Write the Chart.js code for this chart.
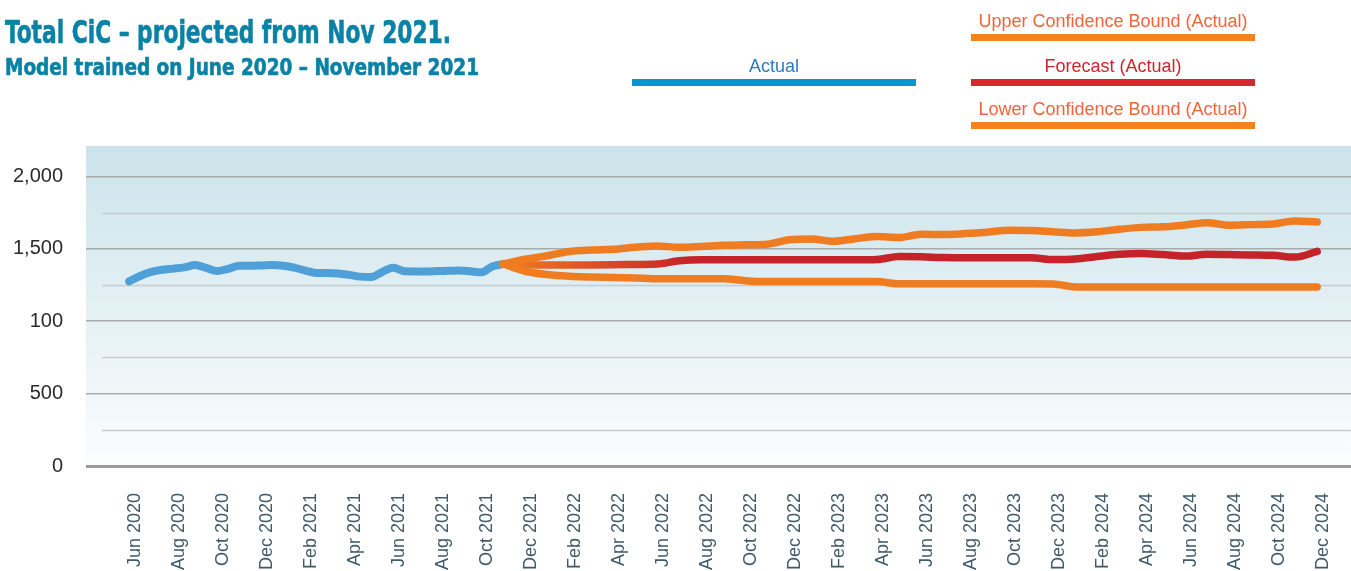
<!DOCTYPE html>
<html>
<head>
<meta charset="utf-8">
<title>Total CiC – projected from Nov 2021</title>
<script src="https://cdn.jsdelivr.net/npm/chart.js@4.4.1/dist/chart.umd.min.js"></script>
<style>
  html, body { margin: 0; padding: 0; background: #fff; }
  #wrap { position: relative; width: 1351px; height: 571px; overflow: hidden; }
  #chart { position: absolute; left: 0; top: 0; }
  .title {
    position: absolute; left: 5px; white-space: nowrap; color: #0a82a5;
    font-family: 'Liberation Sans Narrow', 'DejaVu Sans Condensed', 'Liberation Sans', sans-serif;
    font-weight: bold; font-stretch: condensed; transform-origin: 0 0;
    -webkit-text-stroke: 0.6px #0a82a5;
  }
  #title1 { top: 16px; font-size: 32px; line-height: 32px; }
  #title2 { top: 56px; font-size: 23px; line-height: 23px; }
  .legend-item { position: absolute; }
  .legend-text {
    position: absolute; left: -40px; right: -40px; text-align: center; white-space: nowrap;
    font: 18px 'Liberation Sans', Arial, sans-serif; line-height: 20px;
  }
  .legend-bar { position: absolute; left: 0; width: 100%; height: 7px; }
</style>
</head>
<body>
<div id="wrap">
  <canvas id="chart" width="1351" height="571"></canvas>
  <div class="title" id="title1">Total CiC – projected from Nov 2021.</div>
  <div class="title" id="title2">Model trained on June 2020 – November 2021</div>
  <div id="legend"></div>
</div>
<script>
// --- Data ---
const tickLabels = [
    'Jun 2020', 'Aug 2020', 'Oct 2020', 'Dec 2020', 'Feb 2021', 'Apr 2021', 'Jun 2021',
    'Aug 2021', 'Oct 2021', 'Dec 2021', 'Feb 2022', 'Apr 2022', 'Jun 2022', 'Aug 2022',
    'Oct 2022', 'Dec 2022', 'Feb 2023', 'Apr 2023', 'Jun 2023', 'Aug 2023', 'Oct 2023',
    'Dec 2023', 'Feb 2024', 'Apr 2024', 'Jun 2024', 'Aug 2024', 'Oct 2024', 'Dec 2024'
];

const yTickValues = [0, 250, 500, 750, 1000, 1250, 1500, 1750, 2000];
// labels as printed on the original (including its "100")
const yTickLabels = { 0: '0', 500: '500', 1000: '100', 1500: '1,500', 2000: '2,000' };

const actualDates = [
    '2020-05-23', '2020-06-08', '2020-06-23', '2020-07-08', '2020-07-23', '2020-08-08',
    '2020-08-23', '2020-09-08', '2020-09-23', '2020-10-08', '2020-10-23', '2020-11-08',
    '2020-11-23', '2020-12-08', '2020-12-23', '2021-01-08', '2021-01-23', '2021-02-08',
    '2021-02-23', '2021-03-08', '2021-03-23', '2021-04-08', '2021-04-23', '2021-05-08',
    '2021-05-23', '2021-06-08', '2021-06-23', '2021-07-08', '2021-07-23', '2021-08-08',
    '2021-08-23', '2021-09-08', '2021-09-23', '2021-10-08', '2021-10-23'
];
const actualValues = [
    1275, 1312, 1340, 1355, 1363, 1372, 1388, 1368, 1347, 1362, 1383, 1383,
    1385, 1388, 1383, 1370, 1350, 1333, 1333, 1330, 1320, 1308, 1305, 1340,
    1370, 1345, 1344, 1344, 1346, 1348, 1350, 1345, 1338, 1378, 1395
];

const forecastDates = [
    '2021-10-23', '2021-11-23', '2021-12-23',
    '2022-01-23', '2022-02-23', '2022-03-23', '2022-04-23', '2022-05-23', '2022-06-23',
    '2022-07-23', '2022-08-23', '2022-09-23', '2022-10-23', '2022-11-23', '2022-12-23',
    '2023-01-23', '2023-02-23', '2023-03-23', '2023-04-23', '2023-05-23', '2023-06-23',
    '2023-07-23', '2023-08-23', '2023-09-23', '2023-10-23', '2023-11-23', '2023-12-23',
    '2024-01-23', '2024-02-23', '2024-03-23', '2024-04-23', '2024-05-23', '2024-06-23',
    '2024-07-23', '2024-08-23', '2024-09-23', '2024-10-23', '2024-11-23'
];
const upperValues = [
    1395, 1428, 1452, 1482, 1492, 1497, 1510, 1520, 1510, 1516,
    1524, 1528, 1532, 1562, 1568, 1552, 1570, 1585, 1578, 1601,
    1598, 1605, 1615, 1628, 1626, 1618, 1610, 1618, 1635, 1648,
    1652, 1665, 1680, 1663, 1667, 1672, 1692, 1685
];
const forecastValues = [
    1395, 1390, 1389, 1389, 1389, 1390, 1392, 1395, 1417, 1424,
    1424, 1424, 1424, 1424, 1424, 1424, 1424, 1426, 1447, 1445,
    1440, 1438, 1438, 1438, 1438, 1426, 1430, 1447, 1462, 1468,
    1460, 1450, 1462, 1460, 1458, 1455, 1443, 1482
];
const lowerValues = [
    1395, 1345, 1322, 1310, 1305, 1302, 1298, 1293, 1293, 1293,
    1293, 1280, 1274, 1274, 1274, 1274, 1274, 1274, 1258, 1258,
    1258, 1258, 1258, 1258, 1258, 1257, 1237, 1237, 1237, 1237,
    1237, 1237, 1237, 1237, 1237, 1237, 1237, 1237
];

const seriesNames = {
    actual: 'Actual',
    upper: 'Upper Confidence Bound (Actual)',
    forecast: 'Forecast (Actual)',
    lower: 'Lower Confidence Bound (Actual)'
};

// --- Styles ---
const colors = {
    actualLine: '#4f9fd9',
    orangeLine: '#f07c22',
    redLine: '#c52229',
    actualKey: '#0a95d0',
    orangeKey: '#f4821f',
    redKey: '#d62830',
    actualText: '#2b7bbf',
    orangeText: '#f2643a',
    redText: '#d3222a'
};

const MONTHS = ['Jan', 'Feb', 'Mar', 'Apr', 'May', 'Jun', 'Jul', 'Aug', 'Sep', 'Oct', 'Nov', 'Dec'];

// months since Jan 2020, from 'YYYY-MM-DD' or 'Mon YYYY'
function monthIndex(label) {
    if (label.includes('-')) {
        const [y, m, d] = label.split('-').map(Number);
        return (y - 2020) * 12 + (m - 1) + (d - 1) / 30;
    }
    const [mon, yr] = label.split(' ');
    return (Number(yr) - 2020) * 12 + MONTHS.indexOf(mon);
}

function toPoints(dates, values) {
    return dates.map((d, i) => ({ x: monthIndex(d), y: values[i] }));
}

// --- Legend (HTML) ---
const legendItems = [
    { name: seriesNames.actual, left: 632, top: 79, width: 284, key: colors.actualKey, text: colors.actualText },
    { name: seriesNames.upper, left: 971, top: 34, width: 284, key: colors.orangeKey, text: colors.orangeText },
    { name: seriesNames.forecast, left: 971, top: 79, width: 284, key: colors.redKey, text: colors.redText },
    { name: seriesNames.lower, left: 971, top: 122, width: 284, key: colors.orangeKey, text: colors.orangeText }
];
const legendEl = document.getElementById('legend');
legendItems.forEach((it) => {
    const item = document.createElement('div');
    item.className = 'legend-item';
    item.style.left = it.left + 'px';
    item.style.top = it.top + 'px';
    item.style.width = it.width + 'px';
    const txt = document.createElement('div');
    txt.className = 'legend-text';
    txt.style.top = '-23px';
    txt.style.color = it.text;
    txt.textContent = it.name;
    const bar = document.createElement('div');
    bar.className = 'legend-bar';
    bar.style.top = '0px';
    bar.style.background = it.key;
    item.appendChild(txt);
    item.appendChild(bar);
    legendEl.appendChild(item);
});

// --- Title width fitting ---
function fitWidth(id, target) {
    const el = document.getElementById(id);
    const w = el.getBoundingClientRect().width;
    if (w > 0) el.style.transform = 'scaleX(' + (target / w) + ')';
}
fitWidth('title1', 446);
fitWidth('title2', 474);

// --- Chart ---
const plotBackground = {
    id: 'plotBackground',
    beforeDraw(chart) {
        const { ctx, chartArea: a } = chart;
        const g = ctx.createLinearGradient(0, a.top, 0, a.bottom);
        g.addColorStop(0, '#cbe3ea');
        g.addColorStop(1, '#fbfdfe');
        ctx.save();
        ctx.fillStyle = g;
        ctx.fillRect(a.left, a.top, a.right - a.left, a.bottom - a.top);
        ctx.restore();
    },
    beforeDatasetsDraw(chart) {
        // minor grid lines, indented from the plot edge
        const { ctx, chartArea: a, scales } = chart;
        ctx.save();
        ctx.strokeStyle = '#c6ccd0';
        ctx.lineWidth = 1.5;
        yTickValues.filter((v) => v % 500 !== 0).forEach((v) => {
            const y = Math.round(scales.y.getPixelForValue(v)) + 0.5;
            ctx.beginPath();
            ctx.moveTo(a.left + 16, y);
            ctx.lineTo(a.right, y);
            ctx.stroke();
        });
        ctx.restore();
    }
};

const forecastStart = monthIndex(forecastDates[0]);

function redGradient(context) {
    const chart = context.chart;
    if (!chart.chartArea) return colors.redLine;
    const x0 = chart.scales.x.getPixelForValue(forecastStart);
    const g = chart.ctx.createLinearGradient(x0, 0, x0 + 190, 0);
    g.addColorStop(0, colors.orangeLine);
    g.addColorStop(1, colors.redLine);
    return g;
}

const lineBase = {
    pointRadius: 0,
    pointHoverRadius: 0,
    borderCapStyle: 'round',
    borderJoinStyle: 'round',
    cubicInterpolationMode: 'monotone',
    tension: 0.4,
    fill: false
};

new Chart(document.getElementById('chart').getContext('2d'), {
    type: 'line',
    data: {
        datasets: [
            { ...lineBase, label: seriesNames.upper, data: toPoints(forecastDates, upperValues), borderColor: colors.orangeLine, borderWidth: 7.5 },
            { ...lineBase, label: seriesNames.lower, data: toPoints(forecastDates, lowerValues), borderColor: colors.orangeLine, borderWidth: 7.5 },
            { ...lineBase, label: seriesNames.forecast, data: toPoints(forecastDates, forecastValues), borderColor: redGradient, borderWidth: 7.5 },
            { ...lineBase, label: seriesNames.actual, data: toPoints(actualDates, actualValues), borderColor: colors.actualLine, borderWidth: 8 }
        ]
    },
    options: {
        responsive: false,
        animation: false,
        events: [],
        layout: { padding: { top: 146, left: 0, right: 0, bottom: 0 } },
        plugins: { legend: { display: false }, tooltip: { enabled: false } },
        scales: {
            x: {
                type: 'linear',
                min: 2.77,
                max: 60.27,
                border: { display: false },
                grid: { display: false, drawTicks: false },
                afterBuildTicks: (scale) => {
                    scale.ticks = tickLabels.map((l) => ({ value: monthIndex(l) }));
                },
                afterFit: (scale) => {
                    scale.height = 105;
                    scale.paddingLeft = 0;
                    scale.paddingRight = 0;
                },
                ticks: {
                    autoSkip: false,
                    minRotation: 90,
                    maxRotation: 90,
                    padding: 27,
                    color: '#3f5a6a',
                    font: { family: "'Liberation Sans', Arial, sans-serif", size: 18 },
                    callback: (value, index) => tickLabels[index]
                }
            },
            y: {
                type: 'linear',
                min: 0,
                max: 2210,
                border: { display: false },
                afterBuildTicks: (scale) => {
                    scale.ticks = yTickValues.map((v) => ({ value: v }));
                },
                afterFit: (scale) => {
                    scale.width = 86;
                    scale.paddingTop = 0;
                    scale.paddingBottom = 0;
                },
                grid: {
                    drawTicks: false,
                    color: (ctx) => {
                        const v = ctx.tick ? ctx.tick.value : -1;
                        if (v === 0) return '#9c9c9c';
                        return v % 500 === 0 ? '#a7abad' : 'rgba(0,0,0,0)';
                    },
                    lineWidth: (ctx) => (ctx.tick && ctx.tick.value === 0 ? 3 : 1.5)
                },
                ticks: {
                    padding: 23,
                    color: '#2b2b2b',
                    font: { family: "'Liberation Sans', Arial, sans-serif", size: 20 },
                    callback: (value) => yTickLabels[value] || ''
                }
            }
        }
    },
    plugins: [plotBackground]
});
</script>
</body>
</html>
